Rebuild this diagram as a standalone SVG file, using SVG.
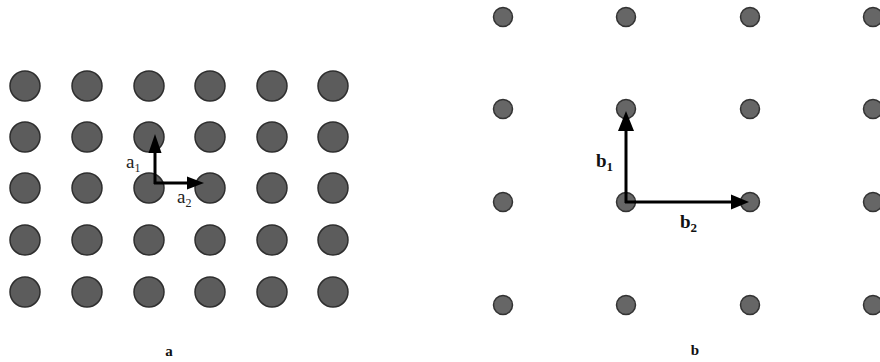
<svg xmlns="http://www.w3.org/2000/svg" width="880" height="362" viewBox="0 0 880 362">
<style>
.dl{fill:#5c5c5c;stroke:#2e2e2e;stroke-width:1.5}
.dr{fill:#666;stroke:#333;stroke-width:1.5}
.ax{stroke:#000;stroke-width:3;fill:none}
.t{font-family:"Liberation Serif",serif;fill:#222}
.tb{font-family:"Liberation Serif",serif;font-weight:bold;fill:#111}
</style>
<g id="latticeA">
<g id="rowA1"><circle class="dl" cx="25" cy="86" r="15"/><circle class="dl" cx="87" cy="86" r="15"/><circle class="dl" cx="149" cy="86" r="15"/><circle class="dl" cx="210" cy="86" r="15"/><circle class="dl" cx="272" cy="86" r="15"/><circle class="dl" cx="333" cy="86" r="15"/></g>
<g id="rowA2"><circle class="dl" cx="25" cy="137" r="15"/><circle class="dl" cx="87" cy="137" r="15"/><circle class="dl" cx="149" cy="137" r="15"/><circle class="dl" cx="210" cy="137" r="15"/><circle class="dl" cx="272" cy="137" r="15"/><circle class="dl" cx="333" cy="137" r="15"/></g>
<g id="rowA3"><circle class="dl" cx="25" cy="188" r="15"/><circle class="dl" cx="87" cy="188" r="15"/><circle class="dl" cx="149" cy="188" r="15"/><circle class="dl" cx="210" cy="188" r="15"/><circle class="dl" cx="272" cy="188" r="15"/><circle class="dl" cx="333" cy="188" r="15"/></g>
<g id="rowA4"><circle class="dl" cx="25" cy="240" r="15"/><circle class="dl" cx="87" cy="240" r="15"/><circle class="dl" cx="149" cy="240" r="15"/><circle class="dl" cx="210" cy="240" r="15"/><circle class="dl" cx="272" cy="240" r="15"/><circle class="dl" cx="333" cy="240" r="15"/></g>
<g id="rowA5"><circle class="dl" cx="25" cy="292" r="15"/><circle class="dl" cx="87" cy="292" r="15"/><circle class="dl" cx="149" cy="292" r="15"/><circle class="dl" cx="210" cy="292" r="15"/><circle class="dl" cx="272" cy="292" r="15"/><circle class="dl" cx="333" cy="292" r="15"/></g>
</g>
<g id="latticeB">
<g id="rowB1"><circle class="dr" cx="503" cy="17" r="9.5"/><circle class="dr" cx="626" cy="17" r="9.5"/><circle class="dr" cx="750" cy="17" r="9.5"/><circle class="dr" cx="873" cy="17" r="9.5"/></g>
<g id="rowB2"><circle class="dr" cx="503" cy="109" r="9.5"/><circle class="dr" cx="626" cy="109" r="9.5"/><circle class="dr" cx="750" cy="109" r="9.5"/><circle class="dr" cx="873" cy="109" r="9.5"/></g>
<g id="rowB3"><circle class="dr" cx="503" cy="202" r="9.5"/><circle class="dr" cx="626" cy="202" r="9.5"/><circle class="dr" cx="750" cy="202" r="9.5"/><circle class="dr" cx="873" cy="202" r="9.5"/></g>
<g id="rowB4"><circle class="dr" cx="503" cy="305" r="9.5"/><circle class="dr" cx="626" cy="305" r="9.5"/><circle class="dr" cx="750" cy="305" r="9.5"/><circle class="dr" cx="873" cy="305" r="9.5"/></g>
</g>
<g id="connectors">
<path class="ax" d="M155,184 V152"/>
<path d="M148.5,153 L155,134 L161.5,153 Z" fill="#000"/>
<path class="ax" d="M154,183 H188"/>
<path d="M187,176.5 L204,183 L187,189.5 Z" fill="#000"/>
<path class="ax" d="M626,203 V130"/>
<path d="M618,131 L626,111 L634,131 Z" fill="#000"/>
<path class="ax" d="M625,202 H732"/>
<path d="M731,194.5 L749,202 L731,209.5 Z" fill="#000"/>
</g>
<g id="labels">
<text class="t" x="126" y="168" font-size="19">a<tspan font-size="12" dy="4">1</tspan></text>
<text class="t" x="177" y="203" font-size="19">a<tspan font-size="12" dy="4">2</tspan></text>
<text class="tb" x="596" y="167" font-size="19">b<tspan font-size="13" dy="4">1</tspan></text>
<text class="tb" x="680" y="228" font-size="19">b<tspan font-size="13" dy="4">2</tspan></text>
<text class="tb" x="169" y="356" font-size="15" text-anchor="middle">a</text>
<text class="tb" x="695" y="355" font-size="15" text-anchor="middle">b</text>
</g>
</svg>
